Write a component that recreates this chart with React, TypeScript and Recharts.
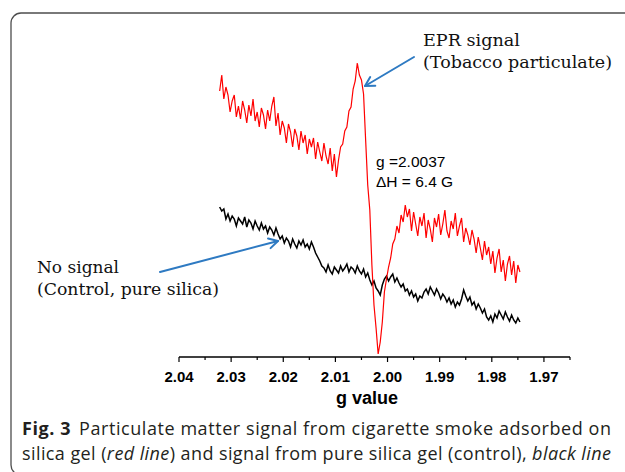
import React from "react";
import { LineChart, Line, XAxis, YAxis } from "recharts";

// g-value sampling grid of the spectrum (evenly spaced field points)
const G_START = 2.0322;
const G_STEP = 0.0004;

// EPR signal, tobacco particulate on silica gel (arbitrary units)
const RED = [
  266, 282, 258, 270, 262, 245, 256, 262, 240, 251,
  238, 256, 247, 234, 252, 241, 258, 236, 245, 230,
  249, 242, 228, 247, 236, 251, 260, 231, 244, 222,
  236, 229, 214, 233, 225, 210, 228, 221, 207, 226,
  214, 222, 203, 218, 210, 219, 198, 215, 205, 196,
  214, 201, 193, 209, 186, 203, 180, 197, 210, 213,
  226, 230, 246, 250, 268, 276, 294, 282, 277, 263,
  217, 172, 147, 92, 52, 29, 3, 15, 35, 65,
  78, 90, 99, 113, 118, 131, 124, 142, 135, 152,
  140, 148, 126, 145, 133, 121, 140, 131, 144, 119,
  137, 128, 115, 139, 130, 143, 122, 133, 147, 126,
  119, 136, 128, 144, 121, 131, 139, 115, 129, 122,
  112, 127, 118, 104, 120, 109, 97, 116, 102, 110,
  93, 106, 84, 99, 108, 85, 97, 76, 93, 101,
  82, 96, 74, 92, 85,
];

// Control: pure silica gel (arbitrary units)
const BLACK = [
  150, 146, 148, 138, 143, 136, 141, 138, 131, 139,
  136, 133, 140, 130, 137, 134, 128, 136, 131, 127,
  134, 128, 131, 124, 130, 127, 122, 129, 123, 118,
  121, 114, 119, 116, 110, 118, 113, 109, 116, 112,
  117, 110, 113, 108, 115, 110, 104, 100, 96, 91,
  89, 85, 92, 86, 83, 90, 87, 84, 91, 86,
  89, 93, 85, 90, 88, 84, 91, 86, 83, 88,
  80, 84, 77, 72, 76, 69, 66, 62, 72, 78,
  81, 76, 80, 83, 75, 79, 74, 70, 73, 66,
  68, 62, 66, 60, 63, 56, 61, 59, 65, 68,
  63, 70, 66, 62, 68, 64, 58, 63, 60, 55,
  59, 53, 57, 50, 55, 52, 58, 67, 61, 56,
  60, 52, 55, 48, 53, 49, 44, 48, 40, 37,
  41, 35, 43, 39, 46, 42, 38, 45, 40, 36,
  42, 37, 34, 39, 35,
];

const TICKS = [
  2.04, 2.035, 2.03, 2.025, 2.02, 2.015, 2.01, 2.005, 2.0, 1.995, 1.99,
  1.985, 1.98, 1.975, 1.97, 1.965,
];

const data = RED.map((r, i) => ({
  g: +(G_START - i * G_STEP).toFixed(4),
  red: r,
  black: BLACK[i],
}));

const GTick = (props: any) => {
  const { x, y, payload } = props;
  const v = payload.value as number;
  const major = Math.abs(Math.round(v * 1000)) % 10 === 0;
  return (
    <g>
      <line x1={x} x2={x} y1={y} y2={y + (major ? 5 : 3)} stroke="#000" strokeWidth={1.2} />
      {major && (
        <text
          x={x}
          y={y + 25}
          textAnchor="middle"
          fontFamily="'Liberation Sans', Arial, sans-serif"
          fontWeight="bold"
          fontSize={15}
          fill="#000"
        >
          {v.toFixed(2)}
        </text>
      )}
    </g>
  );
};

const Arrow = ({ x1, y1, x2, y2 }: { x1: number; y1: number; x2: number; y2: number }) => {
  const dx = x2 - x1;
  const dy = y2 - y1;
  const L = Math.hypot(dx, dy);
  const ux = dx / L;
  const uy = dy / L;
  const h = 9;
  const w = 5;
  const bx = x2 - ux * h;
  const by = y2 - uy * h;
  const px = -uy;
  const py = ux;
  return (
    <g stroke="#2e7ac2" strokeWidth={2} fill="none" strokeLinecap="round" strokeLinejoin="round">
      <line x1={x1} y1={y1} x2={x2} y2={y2} />
      <polyline points={`${bx + px * w},${by + py * w} ${x2},${y2} ${bx - px * w},${by - py * w}`} />
    </g>
  );
};

const SERIF = "'DejaVu Serif', serif";
const SANS = "'Liberation Sans', Arial, sans-serif";
const CAP = "'Open Sans', 'Noto Sans', sans-serif";

export default function App() {
  return (
    <div style={{ position: "absolute", left: 0, top: 0, width: 625, height: 472, background: "#fff", overflow: "hidden" }}>
      <LineChart width={625} height={472} data={data} margin={{ top: 47, right: 55, bottom: 85, left: 179 }}>
        <XAxis
          type="number"
          dataKey="g"
          domain={[1.965, 2.04]}
          reversed
          allowDataOverflow
          ticks={TICKS}
          interval={0}
          tickSize={0}
          tickMargin={0}
          tickLine={false}
          axisLine={{ stroke: "#000", strokeWidth: 1.3 }}
          tick={(p: any) => <GTick {...p} />}
          height={30}
        />
        <YAxis hide type="number" domain={[0, 310]} allowDataOverflow />
        <Line dataKey="black" stroke="#000" strokeWidth={1.5} dot={false} isAnimationActive={false} />
        <Line dataKey="red" stroke="#ff0000" strokeWidth={1.2} dot={false} isAnimationActive={false} />
      </LineChart>
      <svg width={625} height={472} style={{ position: "absolute", left: 0, top: 0, pointerEvents: "none" }}>
        <rect x={11} y={13} width={640} height={462} rx={10} fill="none" stroke="#4d4d4d" strokeWidth={1.3} />
        <text x={423} y={46} fontFamily={SERIF} fontSize={17} fill="#111" textLength={97} lengthAdjust="spacingAndGlyphs">EPR signal</text>
        <text x={423} y={68} fontFamily={SERIF} fontSize={17} fill="#111" textLength={189} lengthAdjust="spacingAndGlyphs">(Tobacco particulate)</text>
        <text x={37} y={273} fontFamily={SERIF} fontSize={17} fill="#111" textLength={82} lengthAdjust="spacingAndGlyphs">No signal</text>
        <text x={37} y={295} fontFamily={SERIF} fontSize={17} fill="#111" textLength={182} lengthAdjust="spacingAndGlyphs">(Control, pure silica)</text>
        <text x={376} y={167} fontFamily={SANS} fontSize={15.5} fill="#000">g =2.0037</text>
        <text x={376} y={187} fontFamily={SANS} fontSize={15.5} fill="#000">ΔH = 6.4 G</text>
        <Arrow x1={414} y1={57} x2={365} y2={86} />
        <Arrow x1={160} y1={272} x2={278} y2={241} />
        <text x={367} y={404} textAnchor="middle" fontFamily={SANS} fontWeight="bold" fontSize={18} fill="#000">g value</text>
        <text x={22} y={435} fontFamily={CAP} fontSize={18} fill="#231f20" textLength={589} lengthAdjust="spacing">
          <tspan fontWeight={700}>Fig. 3</tspan>
          <tspan dx={8}>Particulate matter signal from cigarette smoke adsorbed on</tspan>
        </text>
        <text x={22} y={460} fontFamily={CAP} fontSize={18} fill="#231f20" textLength={589} lengthAdjust="spacing">
          <tspan>silica gel (</tspan>
          <tspan fontStyle="italic">red line</tspan>
          <tspan>) and signal from pure silica gel (control), </tspan>
          <tspan fontStyle="italic">black line</tspan>
        </text>
      </svg>
    </div>
  );
}
